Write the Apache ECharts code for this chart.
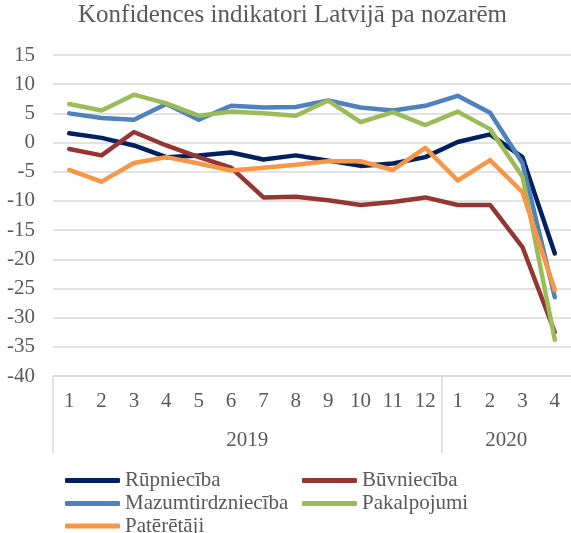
<!DOCTYPE html>
<html>
<head>
<meta charset="utf-8">
<script src="https://cdn.jsdelivr.net/npm/echarts@6/dist/echarts.min.js"></script>
<style>html,body{margin:0;padding:0;background:#fff}#c{width:571px;height:533px}</style>
</head>
<body>
<div id="c"></div>
<script>
var months = ['1','2','3','4','5','6','7','8','9','10','11','12','1','2','3','4'];
var years = ['2019', '2020'];
var rupnieciba = [1.6, 0.8, -0.5, -2.5, -2.2, -1.7, -2.9, -2.2, -3.1, -4.0, -3.6, -2.5, 0.1, 1.4, -2.5, -19.0];
var buvnieciba = [-1.1, -2.2, 1.8, -0.5, -2.5, -4.3, -9.4, -9.3, -9.9, -10.7, -10.2, -9.4, -10.7, -10.7, -17.9, -32.5];
var mazumtirdznieciba = [5.0, 4.2, 3.9, 6.6, 3.9, 6.3, 6.0, 6.1, 7.2, 6.0, 5.5, 6.3, 8.0, 5.1, -3.5, -26.5];
var pakalpojumi = [6.6, 5.5, 8.2, 6.7, 4.6, 5.3, 5.0, 4.6, 7.2, 3.5, 5.2, 3.0, 5.3, 2.3, -5.8, -33.8];
var pateretaji = [-4.7, -6.7, -3.5, -2.5, -3.6, -4.8, -4.3, -3.8, -3.2, -3.2, -4.7, -0.9, -6.5, -3.0, -8.5, -25.3];

var FONT = '"Liberation Serif", "Times New Roman", serif';
var GRAY = '#595959';
var chart = echarts.init(document.getElementById('c'));
function mk(name, data, color) {
  return {name: name, type: 'line', data: data, symbol: 'none', xAxisIndex: 0,
    lineStyle: {color: color, width: 4.5, cap: 'round', join: 'round'},
    itemStyle: {color: color}};
}
var legText = {fontFamily: FONT, fontSize: 21, color: GRAY, lineHeight: 21};
function leg(name, left, top) {
  return {orient: 'horizontal', left: left, top: top, padding: 0, itemWidth: 55, itemHeight: 5,
    icon: 'roundRect', textStyle: legText, data: [name]};
}
chart.setOption({
  animation: false,
  title: {text: 'Konfidences indikatori Latvijā pa nozarēm', left: 78, top: 3, padding: 0,
    textStyle: {fontFamily: FONT, fontSize: 25, fontWeight: 'normal', color: GRAY}},
  grid: {left: 53, top: 55, width: 522, height: 321, containLabel: false},
  legend: [
    leg('Rūpniecība', 65, 470),
    leg('Mazumtirdzniecība', 65, 493),
    leg('Patērētāji', 65, 515.5),
    leg('Būvniecība', 302, 470),
    leg('Pakalpojumi', 302, 493)
  ],
  xAxis: [
    {type: 'category', data: months, boundaryGap: true,
      axisLine: {onZero: false, lineStyle: {color: '#d9d9d9', width: 1.5}},
      axisTick: {show: false},
      axisLabel: {interval: 0, margin: 15, fontFamily: FONT, fontSize: 21, color: GRAY}},
    {type: 'value', min: 0, max: 16, position: 'bottom', offset: 0,
      axisLine: {show: false, onZero: false}, splitLine: {show: false},
      axisTick: {show: true, customValues: [0, 12], length: 77, inside: false,
        lineStyle: {color: '#d9d9d9', width: 1.5}},
      axisLabel: {margin: 54, fontFamily: FONT, fontSize: 21, color: GRAY, customValues: [6, 14],
        formatter: function (v) { return v === 6 ? years[0] : (v === 14 ? years[1] : ''); }}}
  ],
  yAxis: {type: 'value', min: -40, max: 15, interval: 5,
    axisLine: {show: false, onZero: false}, axisTick: {show: false},
    splitLine: {lineStyle: {color: '#d9d9d9', width: 1.5}},
    axisLabel: {margin: 18, fontFamily: FONT, fontSize: 21, color: GRAY}},
  series: [
    mk('Rūpniecība', rupnieciba, '#002060'),
    mk('Būvniecība', buvnieciba, '#943634'),
    mk('Mazumtirdzniecība', mazumtirdznieciba, '#4f81bd'),
    mk('Pakalpojumi', pakalpojumi, '#9bbb59'),
    mk('Patērētāji', pateretaji, '#f79646')
  ]
});
</script>
</body>
</html>
